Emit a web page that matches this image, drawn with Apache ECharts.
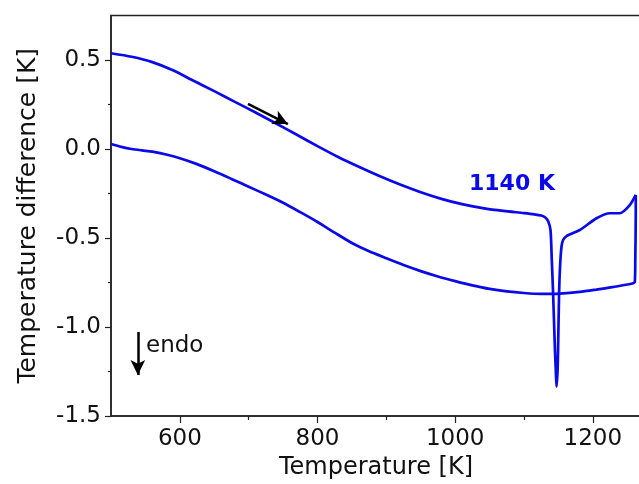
<!DOCTYPE html>
<html><head><meta charset="utf-8">
<script src="https://cdn.jsdelivr.net/npm/echarts@6/dist/echarts.min.js"></script>
<style>html,body{margin:0;padding:0;background:#fff}#c{width:639px;height:484px}</style>
</head><body><div id="c"></div>
<script>
// Heating run (upper branch, incl. endothermic dip at ~1140 K)
const heatT = [500,530,560,590,620,650,680,710,740,770,800,830,860,890,920,950,980,1010,1040,1070,1100,1115,1125,1131,1135,1138.5,1140.4,1142.3,1144.8,1146.2,1147.3,1148.8,1149.6,1151,1152.5,1154.5,1156.8,1161.8,1181,1205.4,1224.7,1239.2,1253.7,1262.4];
const heatV = [0.538,0.518,0.488,0.442,0.383,0.325,0.265,0.205,0.143,0.080,0.016,-0.045,-0.100,-0.152,-0.200,-0.243,-0.280,-0.310,-0.332,-0.348,-0.360,-0.367,-0.374,-0.385,-0.405,-0.455,-0.624,-0.811,-1.11,-1.242,-1.335,-1.242,-1.11,-0.811,-0.652,-0.549,-0.511,-0.489,-0.455,-0.389,-0.361,-0.361,-0.315,-0.258];
// Cooling run (lower branch)
const coolT = [1262.4,1262.4,1261.7,1261,1256,1230,1205,1181,1152,1125,1100,1075,1050,1025,1000,975,950,925,900,875,850,825,800,775,750,725,700,675,650,625,600,580,560,545,530,515,500];
const coolV = [-0.258,-0.36,-0.624,-0.746,-0.757,-0.775,-0.79,-0.803,-0.812,-0.814,-0.809,-0.800,-0.786,-0.766,-0.742,-0.716,-0.686,-0.652,-0.614,-0.575,-0.528,-0.470,-0.410,-0.355,-0.302,-0.256,-0.212,-0.168,-0.125,-0.085,-0.052,-0.031,-0.015,-0.008,0.000,0.012,0.028];
const xMajorTicks = [600,800,1000,1200];
const xMinorTicks = [700,900,1100];
const yMajorTicks = [-1.5,-1.0,-0.5,0.0,0.5];
const yMinorTicks = [-1.25,-0.75,-0.25,0.25];
const xRange = [500,1270];
const yRange = [-1.5,0.75];
const heatArrow = [[699,0.253],[757,0.14]];
const endoArrow = [[539,-1.028],[539,-1.27]];
const peakLabel = '1140 K';
const endoLabel = 'endo';

const BLUE = '#0a0ae8';
const FONT = 'DejaVu Sans';
const INK = '#111';

const chart = echarts.init(document.getElementById('c'), null, {renderer:'canvas'});
const zip = (a,b) => a.map((t,i)=>[t,b[i]]);
const arrowLine = (p) => ({
  silent:true, symbol:['none','arrow'], symbolSize:[11,15], animation:false,
  label:{show:false}, emphasis:{disabled:true},
  lineStyle:{color:'#000', width:2.5, type:'solid'},
  data:[[{coord:p[0]},{coord:p[1]}]]
});
chart.setOption({
  animation:false,
  backgroundColor:'#fff',
  grid:{left:111, top:15.5, right:-2, bottom:68, containLabel:false, outerBoundsMode:'none',
        show:true, borderColor:'#222', borderWidth:1.5, backgroundColor:'transparent'},
  xAxis:[{
    type:'value', min:xRange[0], max:xRange[1],
    name:'Temperature [K]', nameLocation:'middle', nameGap:38,
    nameTextStyle:{fontFamily:FONT, fontSize:24, color:INK},
    axisLine:{show:true, onZero:false, lineStyle:{color:'#222', width:1.5}},
    axisTick:{show:true, length:7, customValues:xMajorTicks, lineStyle:{color:'#222', width:1.2}},
    axisLabel:{customValues:xMajorTicks, fontFamily:FONT, fontSize:23, color:INK, margin:12,
               formatter:v=>String(v)},
    splitLine:{show:false}
  },{
    type:'value', min:xRange[0], max:xRange[1], position:'bottom',
    axisLine:{show:false, onZero:false},
    axisTick:{show:true, length:4, customValues:xMinorTicks, lineStyle:{color:'#222', width:1.2}},
    axisLabel:{show:false}, splitLine:{show:false}
  }],
  yAxis:[{
    type:'value', min:yRange[0], max:yRange[1],
    name:'Temperature difference [K]', nameLocation:'middle', nameGap:70, nameRotate:90,
    nameTextStyle:{fontFamily:FONT, fontSize:25, color:INK},
    axisLine:{show:true, onZero:false, lineStyle:{color:'#222', width:1.5}},
    axisTick:{show:true, length:6, customValues:yMajorTicks, lineStyle:{color:'#222', width:1.2}},
    axisLabel:{customValues:yMajorTicks, fontFamily:FONT, fontSize:23, color:INK, margin:10,
               formatter:v=>v.toFixed(1)},
    splitLine:{show:false}
  },{
    type:'value', min:yRange[0], max:yRange[1], position:'left',
    axisLine:{show:false, onZero:false},
    axisTick:{show:true, length:3, customValues:yMinorTicks, lineStyle:{color:'#222', width:1.2}},
    axisLabel:{show:false}, splitLine:{show:false}
  }],
  series:[{
    type:'line', name:'heating', data:zip(heatT,heatV), showSymbol:false, symbol:'none',
    smooth:0.25, lineStyle:{color:BLUE, width:2.7}, clip:true,
    markLine:arrowLine(heatArrow)
  },{
    type:'line', name:'cooling', data:zip(coolT,coolV), showSymbol:false, symbol:'none',
    smooth:0.25, lineStyle:{color:BLUE, width:2.7}, clip:true,
    markLine:arrowLine(endoArrow)
  }],
  graphic:[
    {type:'text', left:469, top:173, silent:true,
     style:{text:peakLabel, font:'bold 22px "DejaVu Sans"', fill:BLUE}},
    {type:'text', left:146, top:335, silent:true,
     style:{text:endoLabel, font:'23px "DejaVu Sans"', fill:INK}}
  ]
});
</script></body></html>
